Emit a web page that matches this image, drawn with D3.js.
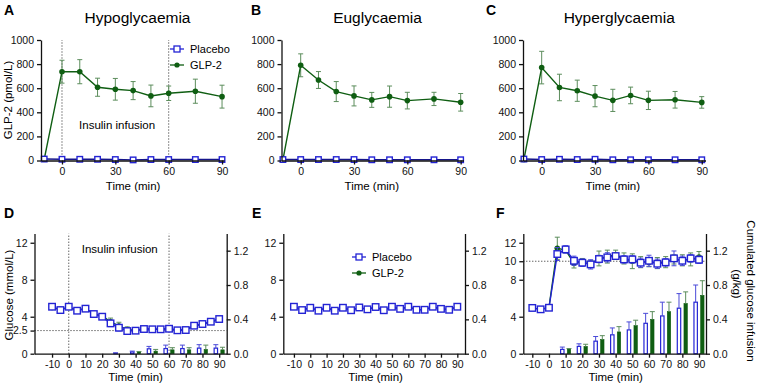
<!DOCTYPE html>
<html>
<head>
<meta charset="utf-8">
<script src="https://cdn.jsdelivr.net/npm/d3@7"></script>
<style>
  body { margin: 0; background: #fff; }
  svg { font-family: "Liberation Sans", Arial, sans-serif; }
</style>
</head>
<body>
<div id="chart"></div>
<script>
    var width = 759,
        height = 390;

    // GLP-2 sampling times (min)
    var glpTimes = [-10, 0, 10, 20, 30, 40, 50, 60, 75, 90];

    var hypoGlp = [10, 737, 737, 608, 591, 580, 536, 558, 575, 530],
        hypoGlpErr = [5, 95, 100, 75, 90, 75, 90, 60, 100, 95],
        hypoPla = [12, 10, 10, 10, 8, 5, 8, 8, 8, 8];

    var euGlp = [5, 790, 668, 572, 536, 503, 530, 497, 511, 483],
        euGlpErr = [3, 95, 70, 83, 83, 62, 88, 69, 55, 73],
        euPla = [8, 8, 8, 8, 8, 6, 6, 6, 6, 6];

    var hyperGlp = [8, 771, 606, 579, 534, 499, 540, 499, 504, 482],
        hyperGlpErr = [3, 135, 110, 88, 88, 92, 69, 76, 69, 48],
        hyperPla = [12, 8, 10, 8, 10, 6, 6, 6, 6, 6];

    var plaErrSmall = [3, 3, 3, 3, 3, 3, 3, 3, 3, 3];

    // glucose sampling times (min)
    var gluTimes = [-10, -5, 0, 5, 10, 15, 20, 25, 30, 35, 40, 45, 50, 55, 60, 65, 70, 75, 80, 85, 90];

    var hypoGluPla = [5.08, 4.72, 5.08, 4.65, 4.87, 4.29, 4.0, 3.28, 2.81, 2.45, 2.49, 2.67, 2.64, 2.64, 2.70, 2.53, 2.56, 3.03, 3.21, 3.46, 3.75],
        hypoGluPlaErr = [0.15, 0.15, 0.2, 0.15, 0.15, 0.2, 0.25, 0.35, 0.35, 0.3, 0.2, 0.15, 0.15, 0.15, 0.15, 0.15, 0.15, 0.15, 0.15, 0.2, 0.3],
        hypoGluGlp = [5.0, 4.8, 5.0, 4.7, 4.9, 4.3, 4.1, 3.45, 3.0, 2.6, 2.55, 2.7, 2.65, 2.65, 2.7, 2.55, 2.6, 3.0, 3.2, 3.45, 3.7],
        hypoGluGlpErr = [0.15, 0.15, 0.15, 0.15, 0.15, 0.2, 0.25, 0.4, 0.4, 0.3, 0.25, 0.15, 0.15, 0.15, 0.15, 0.15, 0.15, 0.15, 0.15, 0.2, 0.25];

    var euGluPla = [5.08, 4.72, 4.97, 4.65, 4.97, 4.65, 4.97, 4.7, 5.0, 4.8, 5.05, 4.7, 5.08, 4.85, 5.08, 4.75, 4.75, 5.08, 4.85, 4.75, 5.08],
        euGluPlaErr = [0.1, 0.1, 0.1, 0.1, 0.1, 0.1, 0.1, 0.1, 0.1, 0.1, 0.1, 0.15, 0.1, 0.1, 0.1, 0.1, 0.1, 0.1, 0.1, 0.1, 0.1],
        euGluGlp = [5.05, 4.75, 4.95, 4.68, 4.95, 4.68, 4.95, 4.72, 4.98, 4.8, 5.02, 4.72, 5.05, 4.85, 5.05, 4.77, 4.77, 5.05, 4.85, 4.77, 5.05],
        euGluGlpErr = [0.1, 0.1, 0.1, 0.1, 0.1, 0.1, 0.1, 0.1, 0.1, 0.1, 0.1, 0.1, 0.1, 0.1, 0.1, 0.1, 0.1, 0.1, 0.1, 0.1, 0.1];

    var hyperGluPla = [4.95, 4.8, 4.97, 10.78, 11.28, 10.05, 9.84, 9.66, 10.24, 10.42, 10.56, 10.2, 10.2, 9.84, 10.05, 9.73, 9.88, 10.31, 10.05, 10.31, 10.16],
        hyperGluPlaErr = [0.3, 0.25, 0.25, 0.7, 0.4, 0.5, 0.4, 0.5, 0.4, 0.5, 0.3, 0.4, 0.4, 0.5, 0.6, 0.5, 0.4, 0.8, 0.5, 0.4, 0.4],
        hyperGluGlp = [4.95, 4.8, 5.0, 11.4, 11.2, 9.77, 9.9, 9.7, 10.3, 10.5, 10.7, 10.3, 10.0, 9.9, 9.9, 9.8, 9.9, 10.2, 10.1, 10.2, 10.45],
        hyperGluGlpErr = [0.3, 0.2, 0.2, 1.2, 0.3, 0.5, 0.4, 0.4, 0.8, 0.7, 0.5, 0.6, 0.8, 0.6, 0.5, 0.6, 0.6, 0.5, 0.6, 0.7, 0.6];

    // cumulated glucose infusion (g/kg)
    var hypoInfTimes = [30, 40, 50, 60, 70, 80, 90],
        hypoInfPla = [0.005, 0.02, 0.057, 0.06, 0.06, 0.065, 0.065],
        hypoInfPlaErr = [0.005, 0.01, 0.028, 0.04, 0.04, 0.04, 0.04],
        hypoInfGlp = [0, 0.02, 0.03, 0.045, 0.045, 0.05, 0.045],
        hypoInfGlpErr = [0, 0.005, 0.02, 0.025, 0.025, 0.05, 0.03];

    var hyperInfTimes = [10, 20, 30, 40, 50, 60, 70, 80, 90],
        hyperInfPla = [0.05, 0.085, 0.146, 0.22, 0.277, 0.354, 0.44, 0.53, 0.60],
        hyperInfPlaErr = [0.027, 0.03, 0.054, 0.08, 0.093, 0.116, 0.16, 0.17, 0.20],
        hyperInfGlp = [0.054, 0.085, 0.165, 0.254, 0.327, 0.40, 0.49, 0.585, 0.68],
        hyperInfGlpErr = [0.006, 0.025, 0.045, 0.061, 0.063, 0.09, 0.11, 0.135, 0.17];

    var glpTicksX = [0, 30, 60, 90],
        glpTicksY = [0, 200, 400, 600, 800, 1000],
        gluTicksX = [-10, 0, 10, 20, 30, 40, 50, 60, 70, 80, 90],
        infTicks = [0, 0.4, 0.8, 1.2];

    var blue = "#2323d4", navy = "#15158a", blueErr = "#4a4ad8",
        green = "#0f5e12", greenErr = "#5c8d5c";

    var svg = d3.select("#chart").append("svg")
        .attr("width", width)
        .attr("height", height);

    // plain hyphen for negatives, like the original
    function plain(d) { return String(d); }

    function zip(t, v, e) {
        return t.map(function (d, i) { return { t: d, v: v[i], e: e ? e[i] : 0 }; });
    }

    function drawAxes(g, x, y, xt, yt) {
        g.append("g")
            .attr("class", "axis")
            .attr("transform", "translate(0," + y.range()[0] + ")")
            .call(d3.axisBottom(x).tickValues(xt).tickSize(4).tickSizeOuter(0).tickFormat(plain));
        g.append("g")
            .attr("class", "axis")
            .attr("transform", "translate(" + x.range()[0] + ",0)")
            .call(d3.axisLeft(y).tickValues(yt).tickSize(4).tickSizeOuter(0).tickFormat(plain));
    }

    function errorBars(g, x, y, data, color, upOnly, dx) {
        dx = dx || 0;
        var eb = g.append("g").attr("stroke", color).attr("stroke-width", 1).attr("fill", "none");
        data.forEach(function (d) {
            if (!d.e) return;
            var cx = x(d.t + dx),
                top = y(d.v + d.e),
                bot = upOnly ? y(d.v) : y(d.v - d.e);
            eb.append("line").attr("x1", cx).attr("x2", cx).attr("y1", top).attr("y2", bot);
            eb.append("line").attr("x1", cx - 2.5).attr("x2", cx + 2.5).attr("y1", top).attr("y2", top);
            if (!upOnly) eb.append("line").attr("x1", cx - 2.5).attr("x2", cx + 2.5).attr("y1", bot).attr("y2", bot);
        });
    }

    function series(g, x, y, data, kind, size, lineColor) {
        var line = d3.line().x(function (d) { return x(d.t); }).y(function (d) { return y(d.v); });
        g.append("path")
            .datum(data)
            .attr("d", line)
            .attr("fill", "none")
            .attr("stroke", lineColor)
            .attr("stroke-width", 1.4);
        if (kind == "square") {
            g.selectAll(null).data(data).enter().append("rect")
                .attr("x", function (d) { return x(d.t) - size / 2; })
                .attr("y", function (d) { return y(d.v) - size / 2; })
                .attr("width", size)
                .attr("height", size)
                .attr("fill", "#fff")
                .attr("stroke", blue)
                .attr("stroke-width", 1.4);
        } else {
            g.selectAll(null).data(data).enter().append("circle")
                .attr("cx", function (d) { return x(d.t); })
                .attr("cy", function (d) { return y(d.v); })
                .attr("r", size)
                .attr("fill", green);
        }
    }

    function bars(g, x, y, data, dx, open) {
        var bw = 3.4;
        g.selectAll(null).data(data).enter().append("rect")
            .attr("x", function (d) { return x(d.t + dx) - bw / 2; })
            .attr("y", function (d) { return y(d.v); })
            .attr("width", bw)
            .attr("height", function (d) { return Math.max(0, y(0) - y(d.v)); })
            .attr("fill", open ? "#fff" : green)
            .attr("stroke", open ? blue : green)
            .attr("stroke-width", open ? 1.2 : 0.6);
        errorBars(g, x, y, data, open ? blueErr : greenErr, true, dx);
    }

    function legend(g, lx, ly) {
        var items = [["Placebo", "square"], ["GLP-2", "circle"]];
        items.forEach(function (it, i) {
            var yy = ly + i * 16;
            g.append("line").attr("x1", lx - 7).attr("x2", lx + 7).attr("y1", yy).attr("y2", yy)
                .attr("stroke", i ? green : blue).attr("stroke-width", 1.3);
            if (i) {
                g.append("circle").attr("cx", lx).attr("cy", yy).attr("r", 2.6).attr("fill", green);
            } else {
                g.append("rect").attr("x", lx - 3).attr("y", yy - 3).attr("width", 6).attr("height", 6)
                    .attr("fill", "#fff").attr("stroke", blue).attr("stroke-width", 1.3);
            }
            g.append("text").attr("x", lx + 13).attr("y", yy + 4).attr("font-size", 11).text(it[0]);
        });
    }

    function label(txt, x, y) {
        svg.append("text").attr("x", x).attr("y", y)
            .attr("font-size", 14).attr("font-weight", "bold").text(txt);
    }

    function vdot(g, x, y, t, v0, v1) {
        g.append("line").attr("x1", x(t)).attr("x2", x(t)).attr("y1", y(v0)).attr("y2", y(v1))
            .attr("stroke", "#222").attr("stroke-width", 1).attr("stroke-dasharray", "1,2");
    }

    function hdot(g, x, y, v, t0, t1) {
        g.append("line").attr("x1", x(t0)).attr("x2", x(t1)).attr("y1", y(v)).attr("y2", y(v))
            .attr("stroke", "#222").attr("stroke-width", 1).attr("stroke-dasharray", "1,2");
    }

    // ---- top row: GLP-2 ----
    var topPanels = [
        { letter: "A", lx: 4, title: "Hypoglycaemia", xr: [41, 224], xd: [-11.8, 91.1], glp: hypoGlp, err: hypoGlpErr, pla: hypoPla },
        { letter: "B", lx: 251, title: "Euglycaemia", xr: [281.5, 463.5], xd: [-10.8, 91.6], glp: euGlp, err: euGlpErr, pla: euPla },
        { letter: "C", lx: 486, title: "Hyperglycaemia", xr: [523, 705.5], xd: [-10.5, 92.1], glp: hyperGlp, err: hyperGlpErr, pla: hyperPla }
    ];

    topPanels.forEach(function (p, i) {
        var g = svg.append("g");
        var x = d3.scaleLinear().domain(p.xd).range(p.xr),
            y = d3.scaleLinear().domain([0, 1000]).range([160.5, 40]);

        if (i == 0) {
            vdot(g, x, y, 0, 0, 1000);
            vdot(g, x, y, 60, 0, 1000);
            g.append("text").attr("x", x(31)).attr("y", y(262)).attr("text-anchor", "middle")
                .attr("font-size", 11.5).text("Insulin infusion");
        }

        var gd = zip(glpTimes, p.glp, p.err),
            pd = zip(glpTimes, p.pla, plaErrSmall);
        errorBars(g, x, y, gd, greenErr, false);
        series(g, x, y, gd, "circle", 2.8, green);
        errorBars(g, x, y, pd, blueErr, false);
        series(g, x, y, pd, "square", 5.5, navy);

        drawAxes(g, x, y, glpTicksX, glpTicksY);

        svg.append("text").attr("x", (p.xr[0] + p.xr[1]) / 2 + 5).attr("y", 23).attr("text-anchor", "middle")
            .attr("font-size", 15.5).text(p.title);
        svg.append("text").attr("x", x(40)).attr("y", 190).attr("text-anchor", "middle")
            .attr("font-size", 11.5).text("Time (min)");
        label(p.letter, p.lx, 15);
        if (i == 0) legend(g, 177, 49);
    });

    svg.append("text")
        .attr("transform", "translate(12,100) rotate(-90)")
        .attr("text-anchor", "middle").attr("font-size", 11.5)
        .text("GLP-2 (pmol/L)");

    // ---- bottom row: glucose + infusion ----
    var botPanels = [
        { letter: "D", lx: 4, xr: [34.5, 226.7], xd: [-20.5, 94.5], yt: [0, 2.5, 4, 8, 12],
          pla: hypoGluPla, plaErr: hypoGluPlaErr, glp: hypoGluGlp, glpErr: hypoGluGlpErr,
          infT: hypoInfTimes, infPla: hypoInfPla, infPlaErr: hypoInfPlaErr, infGlp: hypoInfGlp, infGlpErr: hypoInfGlpErr },
        { letter: "E", lx: 252, xr: [283.3, 465], xd: [-16.5, 94.7], yt: [0, 4, 8, 12],
          pla: euGluPla, plaErr: euGluPlaErr, glp: euGluGlp, glpErr: euGluGlpErr },
        { letter: "F", lx: 496, xr: [523.3, 706], xd: [-15.4, 94.2], yt: [0, 4, 8, 10, 12],
          pla: hyperGluPla, plaErr: hyperGluPlaErr, glp: hyperGluGlp, glpErr: hyperGluGlpErr,
          infT: hyperInfTimes, infPla: hyperInfPla, infPlaErr: hyperInfPlaErr, infGlp: hyperInfGlp, infGlpErr: hyperInfGlpErr }
    ];

    botPanels.forEach(function (p, i) {
        var g = svg.append("g");
        var x = d3.scaleLinear().domain(p.xd).range(p.xr),
            y = d3.scaleLinear().domain([0, 13]).range([353.7, 233.5]),
            y2 = d3.scaleLinear().domain([0, 1.4]).range([353.7, 233.5]);

        if (i == 0) {
            vdot(g, x, y, 0, 0, 13);
            vdot(g, x, y, 60, 0, 13);
            hdot(g, x, y, 2.5, p.xd[0], p.xd[1]);
            g.append("text").attr("x", x(30.5)).attr("y", y(10.9)).attr("text-anchor", "middle")
                .attr("font-size", 11.5).text("Insulin infusion");
        }
        if (i == 2) hdot(g, x, y, 10, p.xd[0], p.xd[1]);

        if (p.infT) {
            bars(g, x, y2, zip(p.infT, p.infPla, p.infPlaErr), -2, true);
            bars(g, x, y2, zip(p.infT, p.infGlp, p.infGlpErr), 2, false);
        }

        var gd = zip(gluTimes, p.glp, p.glpErr),
            pd = zip(gluTimes, p.pla, p.plaErr);
        errorBars(g, x, y, gd, greenErr, false);
        series(g, x, y, gd, "circle", 2.8, green);
        errorBars(g, x, y, pd, blueErr, false);
        series(g, x, y, pd, "square", 6.5, blue);

        drawAxes(g, x, y, gluTicksX, p.yt);
        g.append("g")
            .attr("class", "axis")
            .attr("transform", "translate(" + p.xr[1] + ",0)")
            .call(d3.axisRight(y2).tickValues(infTicks).tickSize(4).tickSizeOuter(0).tickFormat(d3.format(".1f")));

        svg.append("text").attr("x", x(40)).attr("y", 381).attr("text-anchor", "middle")
            .attr("font-size", 11.5).text("Time (min)");
        label(p.letter, p.lx, 218);
        if (i == 1) legend(g, 359, 257);
    });

    svg.append("text")
        .attr("transform", "translate(13,295) rotate(-90)")
        .attr("text-anchor", "middle").attr("font-size", 11.5)
        .text("Glucose (mmol/L)");
    svg.append("text")
        .attr("transform", "translate(747,291) rotate(90)")
        .attr("text-anchor", "middle").attr("font-size", 11.5)
        .text("Cumulated glucose infusion");
    svg.append("text")
        .attr("transform", "translate(733,284) rotate(90)")
        .attr("text-anchor", "middle").attr("font-size", 11.5)
        .text("(g/kg)");

    svg.selectAll(".axis path, .axis line").attr("stroke", "#111").attr("stroke-width", 1.3);
    svg.selectAll(".axis text").attr("font-size", 10.5).attr("fill", "#111")
        .attr("font-family", "Liberation Sans, Arial, sans-serif");
</script>
</body>
</html>
